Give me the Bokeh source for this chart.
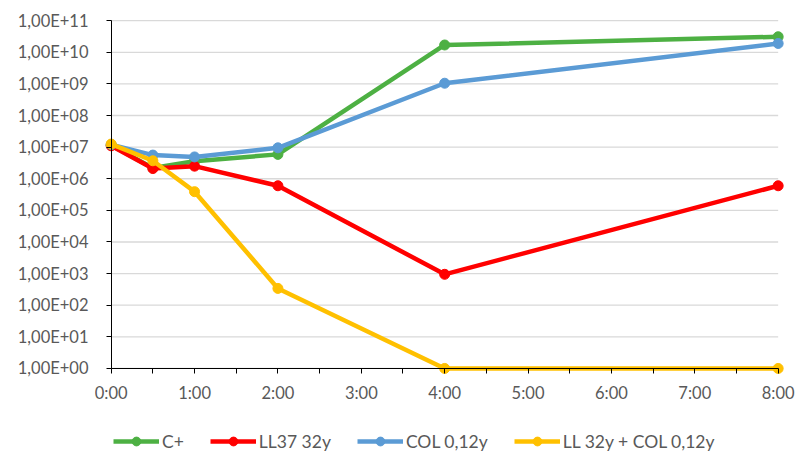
from bokeh.plotting import figure
from bokeh.models import (Range1d, FixedTicker, Legend, LegendItem, LogAxis)
from bokeh.core.properties import value
from bokeh.embed import file_html
from bokeh.resources import INLINE

# ---- data ----
hours = [0, 0.5, 1, 2, 4, 8]
x_tick_hours = [0, 1, 2, 3, 4, 5, 6, 7, 8]
x_tick_labels = ["0:00", "1:00", "2:00", "3:00", "4:00", "5:00", "6:00", "7:00", "8:00"]
y_ticks = [1e0, 1e1, 1e2, 1e3, 1e4, 1e5, 1e6, 1e7, 1e8, 1e9, 1e10, 1e11]
y_tick_labels = ["1,00E+00", "1,00E+01", "1,00E+02", "1,00E+03", "1,00E+04", "1,00E+05",
                 "1,00E+06", "1,00E+07", "1,00E+08", "1,00E+09", "1,00E+10", "1,00E+11"]

series_names = ["C+", "LL37 32y", "COL 0,12y", "LL 32y + COL 0,12y"]
c_plus = [1.15e7, 2.2e6, 3.6e6, 5.9e6, 1.7e10, 3.1e10]
ll37 = [1.1e7, 2.1e6, 2.5e6, 6.0e5, 9.5e2, 6.0e5]
col = [1.2e7, 5.6e6, 4.9e6, 9.5e6, 1.05e9, 1.9e10]
ll_col = [1.25e7, 3.7e6, 3.9e5, 3.4e2, 1.0, 1.0]
colors = ["#4DB043", "#FF0000", "#5B9BD5", "#FFC000"]

FONT = "Lato"
TXT = "#595959"

p = figure(width=805, height=453, output_backend="svg", toolbar_location=None,
           y_axis_type="log", x_axis_location="above",
           x_range=Range1d(-0.2, 8.22), y_range=Range1d(10 ** -2.69, 10 ** 11.1),
           min_border_left=94, min_border_right=9, min_border_top=17, min_border_bottom=0)
p.outline_line_color = None
p.xgrid.visible = False
p.ygrid.visible = False

# horizontal gridlines from 0:00 to 8:00
p.segment(x0=[x_tick_hours[0]] * len(y_ticks), x1=[x_tick_hours[-1]] * len(y_ticks),
          y0=y_ticks, y1=y_ticks, line_color="#D9D9D9", line_width=1.3)

items = []
for name, ys, c in zip(series_names, [c_plus, ll37, col, ll_col], colors):
    r1 = p.line(hours, ys, line_color=c, line_width=4.5, line_join="round")
    r2 = p.scatter(hours, ys, size=10, fill_color=c, line_color=c)
    items.append(LegendItem(label=name, renderers=[r1, r2]))

x_ticker = FixedTicker(ticks=x_tick_hours, minor_ticks=[h + 0.5 for h in x_tick_hours[:-1]])
y_ticker = FixedTicker(ticks=y_ticks, minor_ticks=[])
y_labels = {t: l for t, l in zip(y_ticks, y_tick_labels)}

# x axis line + ticks pinned at 1,00E+00 (ticks pointing down)
xa = p.xaxis[0]
xa.ticker = x_ticker
xa.fixed_location = 1
xa.bounds = (0, 8)
xa.major_tick_in = 5
xa.major_tick_out = 0
xa.minor_tick_in = 5
xa.minor_tick_out = 0
xa.axis_line_color = "black"
xa.major_tick_line_color = "black"
xa.minor_tick_line_color = "black"
xa.major_label_text_font_size = "1px"
xa.major_label_text_alpha = 0
xa.major_label_standoff = 0

# x tick labels under the axis
p.text(x=x_tick_hours, y=[y_ticks[0]] * len(x_tick_hours), text=x_tick_labels,
       y_offset=25, text_align="center", text_baseline="middle",
       text_font=value(FONT), text_font_size="16.5px", text_color=TXT)

# y axis line + ticks pinned at 0:00
ya = p.yaxis[0]
ya.ticker = y_ticker
ya.fixed_location = 0
ya.bounds = (1, 1e11)
ya.major_tick_in = 0
ya.major_tick_out = 5
ya.minor_tick_line_color = None
ya.axis_line_color = "black"
ya.major_tick_line_color = "black"
ya.major_label_text_font_size = "1px"
ya.major_label_text_alpha = 0
ya.major_label_standoff = 0

yl = LogAxis(ticker=y_ticker, major_label_overrides=y_labels,
             axis_line_color=None, major_tick_line_color=None, minor_tick_line_color=None,
             major_tick_in=0, major_tick_out=0, minor_tick_in=0, minor_tick_out=0,
             major_label_text_font=FONT, major_label_text_font_size="16.5px",
             major_label_text_color=TXT, major_label_standoff=6)
p.add_layout(yl, "left")

legend = Legend(items=items, orientation="horizontal", location=(19, 1),
                glyph_width=46, glyph_height=22, label_standoff=3, spacing=26,
                padding=0, margin=0, border_line_color=None, background_fill_alpha=0,
                label_text_font=FONT, label_text_font_size="17.5px", label_text_color=TXT)
p.add_layout(legend, "center")

open("out.html", "w").write(file_html(p, INLINE))
